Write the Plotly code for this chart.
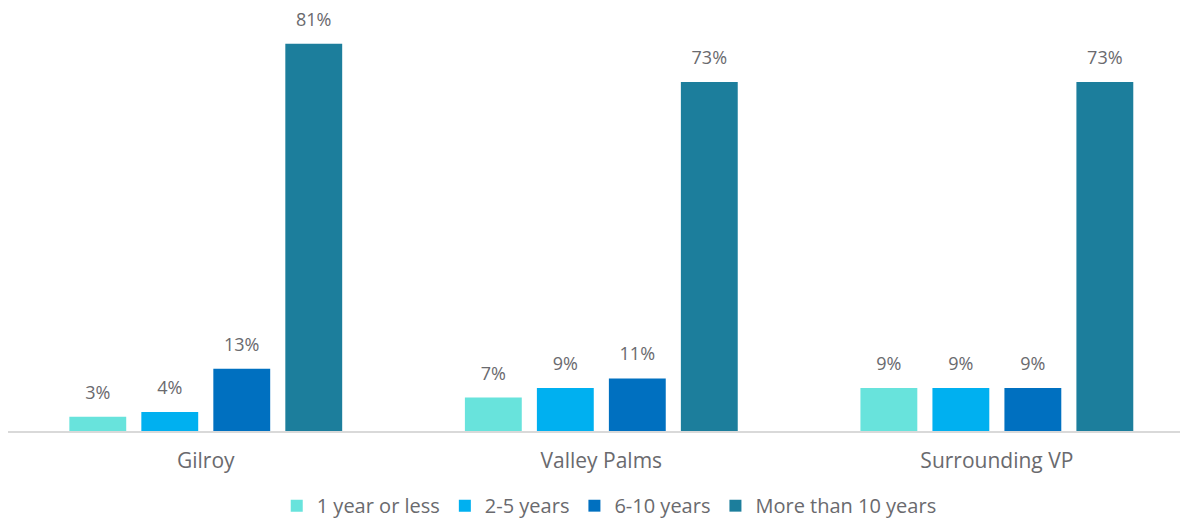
import plotly.graph_objects as go

# Length of residence by area
areas = ["Gilroy", "Valley Palms", "Surrounding VP"]
series_names = ["1 year or less", "2-5 years", "6-10 years", "More than 10 years"]
one_year_or_less = [3, 7, 9]
two_to_five = [4, 9, 9]
six_to_ten = [13, 11, 9]
more_than_ten = [81, 73, 73]

series_values = [one_year_or_less, two_to_five, six_to_ten, more_than_ten]
colors = ["#68E3DC", "#00B0F0", "#0070C0", "#1C7E9C"]

FONT = "Open Sans"
TEXT_GRAY = "#6A6A6E"
BAR_GAP = 0.272

fig = go.Figure()
for i, (name, vals, col) in enumerate(zip(series_names, series_values, colors)):
    fig.add_trace(go.Bar(
        name=name,
        x=areas,
        y=vals,
        offsetgroup=str(i),
        marker=dict(color=col, line=dict(width=0)),
        hoverinfo="skip",
    ))

# value labels: text-only scatter points grouped in the same slots as the bars
for i, vals in enumerate(series_values):
    fig.add_trace(go.Scatter(
        x=areas,
        y=vals,
        offsetgroup=str(i),
        mode="markers+text",
        marker=dict(size=20, opacity=0),
        text=[f"{v}%" for v in vals],
        textposition="top center",
        textfont=dict(family=FONT, size=18, color=TEXT_GRAY),
        cliponaxis=False,
        showlegend=False,
        hoverinfo="skip",
    ))

fig.update_layout(
    width=1180,
    height=519,
    margin=dict(l=8, r=0, t=2, b=88, autoexpand=False),
    paper_bgcolor="white",
    plot_bgcolor="white",
    barmode="group",
    scattermode="group",
    bargap=BAR_GAP,
    scattergap=BAR_GAP,
    bargroupgap=0.21,
    font=dict(family=FONT, color=TEXT_GRAY),
    showlegend=True,
    legend=dict(
        orientation="h",
        x=0.513,
        xanchor="center",
        y=-0.174,
        yanchor="middle",
        font=dict(family=FONT, size=20, color=TEXT_GRAY),
        traceorder="normal",
    ),
    xaxis=dict(
        type="category",
        range=[-0.5, 2.463],
        showline=True,
        linecolor="#D9D9D9",
        linewidth=2,
        ticks="",
        showgrid=False,
        tickfont=dict(family=FONT, size=21, color=TEXT_GRAY),
        ticklabelstandoff=10,
        fixedrange=True,
    ),
    yaxis=dict(
        range=[0, 89.75],
        visible=False,
        showgrid=False,
        zeroline=False,
        fixedrange=True,
    ),
)

fig.write_html("out.html")
